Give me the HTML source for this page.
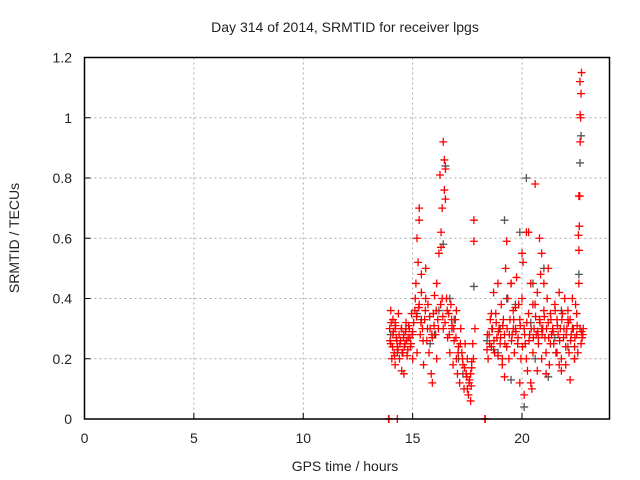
<!DOCTYPE html>
<html><head><meta charset="utf-8">
<style>
body{margin:0;background:#fff;}
svg{display:block;font-family:"Liberation Sans",sans-serif;}
</style></head>
<body>
<svg id="chart" width="640" height="480">
<text x="345" y="32" text-anchor="middle" font-size="14" fill="#222">Day 314 of 2014, SRMTID for receiver lpgs</text>
<text x="345" y="471" text-anchor="middle" font-size="14" fill="#222">GPS time / hours</text>
<text transform="translate(19,238) rotate(-90)" text-anchor="middle" font-size="14" fill="#222">SRMTID / TECUs</text>
<g id="grid"></g>
<g id="marks"></g>
<rect x="84.5" y="57.5" width="525" height="361.5" fill="none" stroke="#000" stroke-width="1.5"/>
<g id="ticks"></g>
</svg>
<script>
const xTicks=[0,5,10,15,20];
const yTicks=[0,0.2,0.4,0.6,0.8,1,1.2];
const yTickLabels=["0","0.2","0.4","0.6","0.8","1","1.2"];
const grayT=[14.0,14.3,14.7,15.4,15.8,16.2,16.4,16.5,16.7,16.9,17.1,17.3,17.8,18.4,18.7,19.0,19.2,19.5,19.7,19.9,20.1,20.2,20.4,20.5,20.6,20.9,21.2,21.5,21.8,22.1,22.4,22.6,22.65,22.7,22.3,21.0,19.3,18.9,16.0,15.2];
const grayV=[0.28,0.22,0.3,0.33,0.25,0.36,0.58,0.84,0.40,0.33,0.2,0.15,0.44,0.26,0.23,0.3,0.66,0.13,0.38,0.62,0.04,0.8,0.32,0.45,0.2,0.3,0.14,0.27,0.36,0.24,0.2,0.48,0.85,0.94,0.3,0.5,0.4,0.22,0.28,0.35];
const redT=[13.9,13.92,14.3,18.3,18.32,
13.95,14.0,14.0,14.05,14.1,14.1,14.15,14.2,14.2,14.25,14.3,14.35,14.4,14.45,14.5,14.5,14.55,14.6,14.65,14.7,14.75,14.8,14.85,14.9,14.95,15.0,15.0,
15.1,15.15,15.2,15.25,15.3,15.3,15.35,15.4,15.45,15.5,15.55,15.6,15.65,15.7,15.75,15.8,15.85,15.9,15.95,16.0,16.05,16.1,16.15,16.2,16.25,16.3,16.35,16.4,16.4,16.45,16.5,16.55,16.6,16.65,16.7,16.75,16.8,16.85,16.9,16.95,17.0,17.05,17.1,17.15,17.2,17.25,17.3,17.35,17.4,17.45,17.5,17.55,17.6,17.65,17.7,17.75,17.8,17.8,17.85,
15.2,15.3,15.6,16.3,16.35,16.45,16.5,17.0,17.5,17.65,17.7,16.8,16.1,15.9,15.4,14.6,14.2,
18.4,18.45,18.5,18.55,18.6,18.65,18.7,18.75,18.8,18.85,18.9,18.95,19.0,19.05,19.1,19.15,19.2,19.25,19.3,19.35,19.4,19.45,19.5,19.55,19.6,19.65,19.7,19.75,19.8,19.85,19.9,19.95,20.0,20.05,20.1,20.15,20.2,20.25,20.3,20.35,20.4,20.45,20.5,20.55,20.6,20.65,20.7,20.75,20.8,20.85,20.9,20.95,21.0,21.05,21.1,21.15,21.2,21.25,21.3,21.35,21.4,21.45,21.5,21.55,21.6,21.65,21.7,21.75,21.8,21.85,21.9,21.95,22.0,22.05,22.1,22.15,22.2,22.25,22.3,22.35,22.4,22.45,22.5,22.55,22.6,22.65,22.7,22.75,22.8,
19.1,19.3,19.5,19.7,19.9,20.0,20.1,20.2,20.3,20.5,20.6,20.8,20.9,21.0,21.1,21.2,21.4,21.6,21.8,22.0,22.2,22.4,22.6,22.62,22.64,22.66,22.68,22.7,22.72,22.65,22.6,22.58,22.66,20.7,20.75,19.6,19.2,18.6,18.9,20.4,21.3,21.7,22.1,22.5,
13.97,14.02,14.08,14.12,14.18,14.22,14.28,14.33,14.38,14.42,14.48,14.52,14.58,14.62,14.68,14.72,14.78,14.82,14.88,14.92,14.98,15.05,15.12,15.18,15.28,15.38,15.48,15.58,15.68,15.78,15.88,15.98,16.08,16.18,16.28,16.38,16.48,16.58,16.68,16.78,16.88,16.98,17.08,17.18,17.28,17.38,17.48,17.58,17.68,17.78,
18.42,18.52,18.62,18.72,18.82,18.92,19.02,19.12,19.22,19.32,19.42,19.52,19.62,19.72,19.82,19.92,20.02,20.12,20.22,20.32,20.42,20.52,20.62,20.72,20.82,20.92,21.02,21.12,21.22,21.32,21.42,21.52,21.62,21.72,21.82,21.92,22.02,22.12,22.22,22.32,22.42,22.52,22.72,22.78];
const redV=[0,0,0,0,0,
0.3,0.36,0.25,0.2,0.28,0.33,0.22,0.3,0.18,0.27,0.24,0.35,0.2,0.26,0.3,0.16,0.22,0.28,0.25,0.32,0.21,0.27,0.3,0.24,0.35,0.29,0.2,
0.36,0.45,0.6,0.52,0.7,0.38,0.28,0.42,0.3,0.18,0.33,0.4,0.26,0.38,0.22,0.3,0.15,0.12,0.35,0.41,0.28,0.45,0.33,0.55,0.81,0.62,0.4,0.92,0.3,0.86,0.73,0.4,0.27,0.35,0.22,0.38,0.3,0.18,0.26,0.33,0.2,0.15,0.24,0.12,0.3,0.22,0.18,0.1,0.25,0.15,0.2,0.08,0.13,0.06,0.17,0.25,0.59,0.66,0.3,
0.22,0.66,0.5,0.57,0.7,0.76,0.83,0.36,0.1,0.15,0.19,0.31,0.2,0.27,0.48,0.15,0.32,
0.23,0.2,0.28,0.33,0.24,0.3,0.42,0.22,0.35,0.27,0.45,0.3,0.25,0.38,0.2,0.33,0.28,0.5,0.24,0.4,0.2,0.33,0.45,0.28,0.36,0.22,0.3,0.47,0.25,0.38,0.33,0.2,0.4,0.52,0.3,0.25,0.62,0.16,0.35,0.28,0.45,0.1,0.22,0.3,0.38,0.28,0.42,0.25,0.33,0.48,0.2,0.3,0.36,0.27,0.22,0.4,0.32,0.18,0.35,0.28,0.3,0.25,0.38,0.22,0.33,0.28,0.42,0.3,0.2,0.35,0.27,0.4,0.24,0.3,0.36,0.22,0.33,0.28,0.4,0.3,0.24,0.38,0.28,0.22,0.45,0.3,0.25,0.27,0.3,
0.18,0.59,0.45,0.37,0.12,0.55,0.08,0.2,0.62,0.38,0.78,0.6,0.55,0.45,0.15,0.5,0.3,0.22,0.16,0.18,0.13,0.2,0.56,0.64,0.74,0.92,1.0,1.08,1.15,1.12,0.74,0.61,1.01,0.16,0.27,0.3,0.14,0.35,0.21,0.12,0.25,0.18,0.33,0.35,
0.26,0.32,0.24,0.29,0.21,0.31,0.26,0.23,0.28,0.25,0.3,0.22,0.27,0.24,0.29,0.26,0.23,0.31,0.27,0.25,0.28,0.32,0.4,0.34,0.37,0.32,0.26,0.36,0.3,0.34,0.28,0.31,0.36,0.3,0.38,0.34,0.32,0.36,0.28,0.33,0.3,0.27,0.22,0.25,0.2,0.17,0.14,0.12,0.11,0.2,
0.28,0.25,0.3,0.26,0.32,0.29,0.27,0.31,0.25,0.3,0.28,0.26,0.33,0.29,0.27,0.31,0.24,0.28,0.32,0.26,0.3,0.27,0.34,0.29,0.32,0.28,0.34,0.3,0.27,0.33,0.29,0.36,0.31,0.26,0.33,0.3,0.28,0.32,0.26,0.3,0.27,0.31,0.29,0.28];
const X=t=>84.5+t*(525/24);
const Y=v=>419-v*(361.5/1.2);
const NS="http://www.w3.org/2000/svg";
const grid=document.getElementById('grid'),ticks=document.getElementById('ticks'),marks=document.getElementById('marks');
function mk(tag,attrs,parent){const e=document.createElementNS(NS,tag);for(const k in attrs)e.setAttribute(k,attrs[k]);parent.appendChild(e);return e;}
xTicks.forEach(t=>{
  if(t>0){const g=mk('line',{x1:X(t),x2:X(t),y1:57.5,y2:419,stroke:'#aaa','stroke-dasharray':'2,3'},grid);
  
  }
  const tk=mk('line',{x1:X(t),x2:X(t),y1:419,y2:413,stroke:'#000'},ticks);
  
  
  const l=mk('text',{x:X(t),y:443,'text-anchor':'middle','font-size':'14',fill:'#222'},ticks);l.textContent=t;
  
  
});
yTicks.forEach((v,i)=>{
  if(v>0&&v<1.2){const g=mk('line',{x1:84.5,x2:609.5,y1:Y(v),y2:Y(v),stroke:'#aaa','stroke-dasharray':'2,3'},grid);
  
  }
  const tk=mk('line',{x1:84.5,x2:90.5,y1:Y(v),y2:Y(v),stroke:'#000'},ticks);
  
  
  const l=mk('text',{x:72,y:Y(v)+5,'text-anchor':'end','font-size':'14',fill:'#222'},ticks);l.textContent=yTickLabels[i];
  
  
});
function plus(t,v,color,name){
  const x=X(t),y=Y(v);
  const p=mk('path',{d:`M${x-4},${y}H${x+4}M${x},${y-4}V${y+4}`,stroke:color,'stroke-width':'1.3',fill:'none'},marks);
  
  
}
grayT.forEach((t,i)=>plus(t,grayV[i],'#555','gray-point'));
redT.forEach((t,i)=>plus(t,redV[i],'#f00','red-point'));
</script>
</body></html>
